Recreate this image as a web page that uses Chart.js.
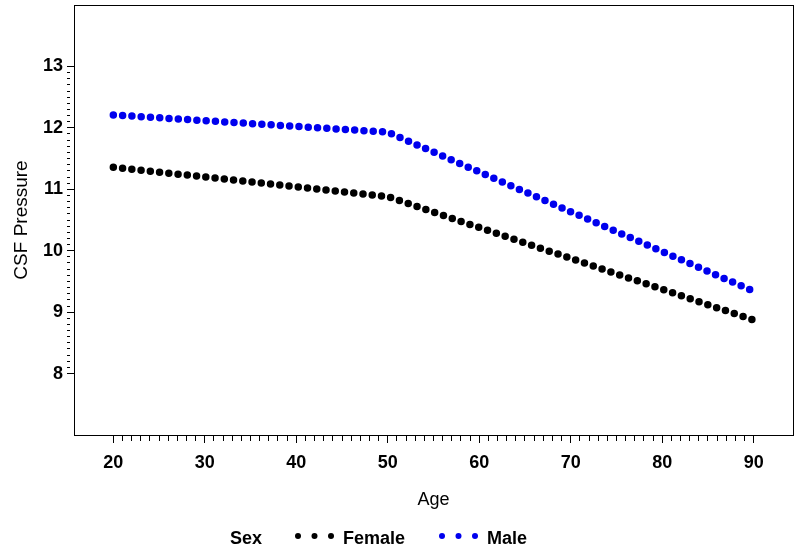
<!DOCTYPE html>
<html>
<head>
<meta charset="utf-8">
<script src="https://cdn.jsdelivr.net/npm/chart.js@4/dist/chart.umd.min.js"></script>
<style>
  body { margin: 0; background: #fff; }
  #box { width: 799px; height: 551px; }
</style>
</head>
<body>
<div id="box"><canvas id="grafica" width="799" height="551"></canvas></div>
<script>
// datos
const edades = [20, 50, 90];
const femenino = [11.36, 10.88, 8.87];
const masculino = [12.21, 11.93, 9.34];
const xTicks = [20, 30, 40, 50, 60, 70, 80, 90];
const yTicks = [8, 9, 10, 11, 12, 13];
const series = ["Female", "Male"];
const colores = ["#000000", "#0000ee"];

const fuente = "'Liberation Sans', Arial, sans-serif";

// ticks menores: cada año en x, cada 0.1 en y
const xMenores = [];
for (let i = xTicks[0]; i <= xTicks[xTicks.length - 1]; i++) xMenores.push(i);
const yMenores = [];
for (let i = yTicks[0] * 10; i <= yTicks[yTicks.length - 1] * 10; i++) yMenores.push(i / 10);

function esMayor(v, lista) {
  return lista.some((t) => Math.abs(t - v) < 1e-6);
}

function puntos(ys) {
  return edades.map((e, i) => ({ x: e, y: ys[i] }));
}

// marco alrededor del area del grafico
const marco = {
  id: "marco",
  afterDraw(chart) {
    const a = chart.chartArea;
    const ctx = chart.ctx;
    ctx.save();
    ctx.strokeStyle = "#000";
    ctx.lineWidth = 1;
    ctx.strokeRect(Math.round(a.left) + 0.5, Math.round(a.top) + 0.5, Math.round(a.right - a.left), Math.round(a.bottom - a.top));
    ctx.restore();
  },
};

// leyenda de abajo: "Sex  ••• Female  ••• Male"
const leyenda = {
  id: "leyenda",
  afterDraw(chart) {
    const ctx = chart.ctx;
    const y = 539;
    ctx.save();
    ctx.font = "bold 18px " + fuente;
    ctx.textBaseline = "middle";
    ctx.fillStyle = "#000";
    ctx.fillText("Sex", 230, y);
    const inicios = [298, 442];
    chart.data.datasets.forEach((ds, k) => {
      ctx.fillStyle = ds.borderColor;
      for (let j = 0; j < 3; j++) {
        ctx.beginPath();
        ctx.arc(inicios[k] + j * 16.5, y - 3, 3, 0, Math.PI * 2);
        ctx.fill();
      }
      ctx.fillStyle = "#000";
      ctx.fillText(ds.label, inicios[k] + 45, y);
    });
    ctx.restore();
  },
};

new Chart(document.querySelector("#grafica").getContext("2d"), {
  type: "line",
  data: {
    datasets: [
      {
        label: series[0],
        data: puntos(femenino),
        borderColor: colores[0],
        borderWidth: 7.5,
        borderDash: [0, 9.3],
        borderCapStyle: "round",
        pointRadius: 0,
        fill: false,
      },
      {
        label: series[1],
        data: puntos(masculino),
        borderColor: colores[1],
        borderWidth: 7.5,
        borderDash: [0, 9.3],
        borderCapStyle: "round",
        pointRadius: 0,
        fill: false,
      },
    ],
  },
  options: {
    responsive: false,
    animation: false,
    layout: { padding: { left: 0, right: 6, top: 5, bottom: 0 } },
    plugins: { legend: { display: false }, tooltip: { enabled: false } },
    scales: {
      x: {
        type: "linear",
        min: 15.7,
        max: 94.3,
        afterBuildTicks: (s) => {
          s.ticks = xMenores.map((v) => ({ value: v }));
        },
        afterFit: (s) => {
          s.height = 116;
          s.paddingLeft = 0;
          s.paddingRight = 0;
        },
        ticks: {
          autoSkip: false,
          maxRotation: 0,
          padding: 9,
          color: "#000",
          font: { family: fuente, size: 18, weight: "bold" },
          callback: (v) => (esMayor(v, xTicks) ? String(v) : ""),
        },
        grid: {
          drawOnChartArea: false,
          tickLength: 8,
          tickColor: "#000",
          tickBorderDash: (c) => (c.tick && esMayor(c.tick.value, xTicks) ? [] : [5, 30]),
        },
        border: { color: "#000", width: 1 },
        title: {
          display: true,
          text: "Age",
          color: "#000",
          font: { family: fuente, size: 18 },
          padding: { top: 0, bottom: 40 },
        },
      },
      y: {
        type: "linear",
        min: 7,
        max: 14,
        afterBuildTicks: (s) => {
          s.ticks = yMenores.map((v) => ({ value: v }));
        },
        afterFit: (s) => {
          s.width = 74;
          s.paddingTop = 0;
          s.paddingBottom = 0;
        },
        ticks: {
          autoSkip: false,
          padding: 4,
          color: "#000",
          font: { family: fuente, size: 18, weight: "bold" },
          callback: (v) => (esMayor(v, yTicks) ? String(Math.round(v)) : ""),
        },
        grid: {
          drawOnChartArea: false,
          tickLength: 7,
          tickColor: "#000",
          tickBorderDash: (c) => (c.tick && esMayor(c.tick.value, yTicks) ? [] : [3, 30]),
        },
        border: { color: "#000", width: 1 },
        title: {
          display: true,
          text: "CSF Pressure",
          color: "#000",
          font: { family: fuente, size: 19 },
          padding: { top: 10, bottom: 0 },
        },
      },
    },
  },
  plugins: [marco, leyenda],
});
</script>
</body>
</html>
